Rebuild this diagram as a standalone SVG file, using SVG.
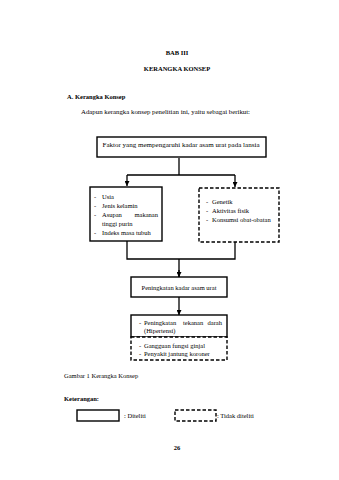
<svg xmlns="http://www.w3.org/2000/svg" width="339" height="480" viewBox="0 0 339 480">
<style>
text{font-family:"Liberation Serif","Times New Roman",serif;font-size:6.5px;fill:#000}
.b{font-weight:bold}
.box{fill:#fff;stroke:#000;stroke-width:1.4}
.dash{fill:#fff;stroke:#000;stroke-width:1.4;stroke-dasharray:3.5 2}
.ln{fill:none;stroke:#000;stroke-width:1.3}
</style>
<defs>
<marker id="ah" viewBox="0 0 10 10" refX="10" refY="5" markerWidth="5" markerHeight="5" markerUnits="userSpaceOnUse" orient="auto">
<path d="M0,0L10,5L0,10z" fill="#000"/>
</marker>
</defs>
<rect width="339" height="480" fill="#fff"/>
<text class="b" x="177" y="55" text-anchor="middle">BAB III</text>
<text class="b" x="177" y="71" text-anchor="middle">KERANGKA KONSEP</text>
<text class="b" x="67" y="99">A.  Kerangka Konsep</text>
<text x="81" y="114" textLength="169" lengthAdjust="spacingAndGlyphs">Adapun kerangka konsep penelitian ini, yaitu sebagai berikut:</text>
<g id="connectors">
<path class="ln" d="M179,158V175M127,175H235"/>
<path class="ln" d="M127,175V186" marker-end="url(#ah)"/>
<path class="ln" d="M235,175V187" marker-end="url(#ah)"/>
<path class="ln" d="M127,241V259H235V242M179,259V277"/>
<path class="ln" d="M179,270V277" marker-end="url(#ah)"/>
<path class="ln" d="M179,297V315" marker-end="url(#ah)"/>
</g>
<g id="faktor">
<rect class="box" x="97" y="137" width="169" height="20"/>
<text x="181" y="146.5" text-anchor="middle" textLength="157" lengthAdjust="spacingAndGlyphs">Faktor yang mempengaruhi kadar asam urat pada lansia</text>
</g>
<g id="diteliti-faktor">
<rect class="box" x="90" y="187" width="72" height="54"/>
<text x="94" y="198.5">-</text><text x="102" y="198.5">Usia</text>
<text x="94" y="207.5">-</text><text x="102" y="207.5">Jenis kelamin</text>
<text x="94" y="216.5">-</text><text x="102" y="216.5">Asupan</text><text x="158" y="216.5" text-anchor="end">makanan</text>
<text x="102" y="225.5">tinggi purin</text>
<text x="94" y="234.5">-</text><text x="102" y="234.5">Indeks masa tubuh</text>
</g>
<g id="tidak-faktor">
<rect class="dash" x="199" y="188" width="80" height="54"/>
<text x="206" y="204">-</text><text x="212" y="204">Genetik</text>
<text x="206" y="213">-</text><text x="212" y="213">Aktivitas fisik</text>
<text x="206" y="222">-</text><text x="212" y="222">Konsumsi obat-obatan</text>
</g>
<g id="peningkatan">
<rect class="box" x="131" y="277" width="96" height="20"/>
<text x="179" y="289.5" text-anchor="middle">Peningkatan kadar asam urat</text>
</g>
<g id="hipertensi">
<rect class="box" x="131" y="315" width="96" height="22"/>
<text x="139" y="325">-</text><text x="144" y="325">Peningkatan</text><text x="183" y="325">tekanan</text><text x="222" y="325" text-anchor="end">darah</text>
<text x="144" y="333">(Hipertensi)</text>
</g>
<g id="komplikasi">
<rect class="dash" x="131" y="337" width="96" height="23"/>
<text x="139" y="348">-</text><text x="144" y="348">Gangguan fungsi ginjal</text>
<text x="139" y="356">-</text><text x="144" y="356">Penyakit jantung koroner</text>
</g>
<text x="64" y="378">Gambar 1 Kerangka Konsep</text>
<text class="b" x="64" y="401">Keterangan:</text>
<g id="legend">
<rect class="box" x="77" y="410" width="42" height="11"/>
<text x="124" y="418">: Diteliti</text>
<rect class="dash" x="175" y="410" width="41" height="11"/>
<text x="217" y="418">: Tidak diteliti</text>
</g>
<text class="b" x="177" y="450" text-anchor="middle">26</text>
</svg>
